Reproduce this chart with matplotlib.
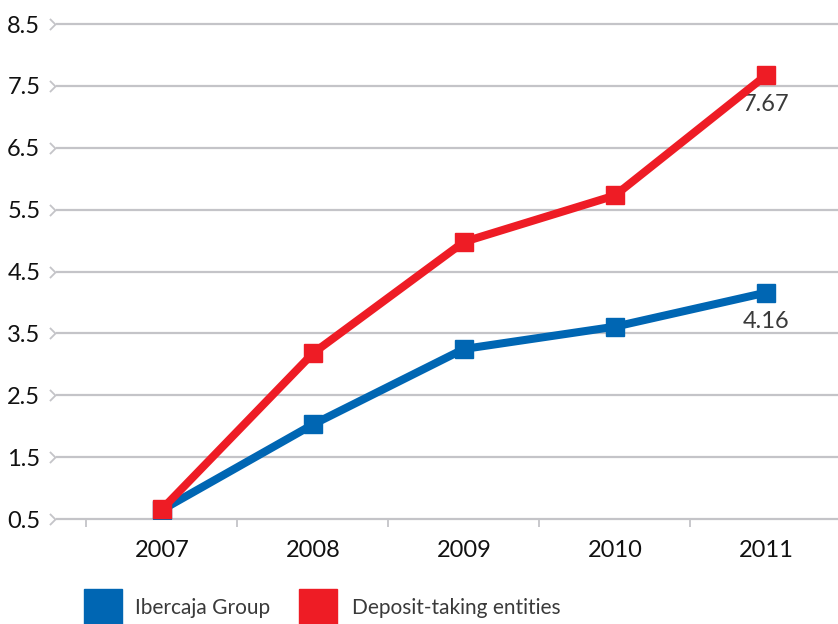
import matplotlib.pyplot as plt
import matplotlib.transforms as mtransforms
from matplotlib.patches import Rectangle

years = ["2007", "2008", "2009", "2010", "2011"]
ibercaja = [0.65, 2.03, 3.25, 3.61, 4.16]
deposit = [0.66, 3.18, 4.98, 5.73, 7.67]
yticks = [0.5, 1.5, 2.5, 3.5, 4.5, 5.5, 6.5, 7.5, 8.5]

blue = "#0066b3"
red = "#ee1c25"
grid = "#c4c4c8"
txt = "#3a3a3a"

plt.rcParams["font.family"] = ["Lato", "DejaVu Sans"]

fig = plt.figure(figsize=(8.38, 6.24), dpi=100)
ax = fig.add_axes([0.068, 0.168, 0.932, 0.7935])

x = list(range(len(years)))
ax.plot(x, ibercaja, color=blue, lw=5.8, marker="s", ms=13, solid_joinstyle="miter", zorder=3)
ax.plot(x, deposit, color=red, lw=5.8, marker="s", ms=13, solid_joinstyle="miter", zorder=4)

ax.set_xlim(-0.695, 4.477)
ax.set_ylim(0.5, 8.5)

for s in ax.spines.values():
    s.set_visible(False)

# horizontal grid lines
for v in yticks:
    ax.axhline(v, color=grid, lw=1.6, zorder=1, clip_on=False)

# chevron tick marks on the left
trans = mtransforms.blended_transform_factory(ax.transAxes, ax.transData)
chev = [(-1, 1), (0, 0), (-1, -1)]
ax.plot([-0.002] * len(yticks), yticks, transform=trans, ls="none", marker=chev,
        ms=8, mfc="none", mec=grid, mew=1.3, clip_on=False)

ax.set_yticks(yticks)
ax.set_yticklabels([f"{v:.1f}" for v in yticks], fontsize=17, color="#111111")
ax.tick_params(axis="y", length=0, pad=12)

ax.set_xticks(x)
ax.set_xticklabels(years, fontsize=17, color="#111111")
ax.tick_params(axis="x", length=0, pad=15)
ax.set_xticks([i - 0.5 for i in x], minor=True)
ax.tick_params(axis="x", which="minor", length=6, width=1.3, color=grid)

ax.annotate(f"{deposit[-1]:.2f}", (x[-1], deposit[-1]), xytext=(0, -21),
            textcoords="offset points", ha="center", va="center",
            fontsize=17, color=txt)
ax.annotate(f"{ibercaja[-1]:.2f}", (x[-1], ibercaja[-1]), xytext=(0, -21),
            textcoords="offset points", ha="center", va="center",
            fontsize=17, color=txt)

# legend
W, H = 838, 624
fig.patches.append(Rectangle((84 / W, 0), 38 / W, 35 / H, transform=fig.transFigure,
                             color=blue, figure=fig))
fig.text(135 / W, 1 - 608 / H, "Ibercaja Group", fontsize=15,
         color=txt, va="center")
fig.patches.append(Rectangle((299 / W, 0), 38 / W, 35 / H, transform=fig.transFigure,
                             color=red, figure=fig))
fig.text(352 / W, 1 - 608 / H, "Deposit-taking entities", fontsize=15,
         color=txt, va="center")

fig.savefig("out.png", dpi=100)
